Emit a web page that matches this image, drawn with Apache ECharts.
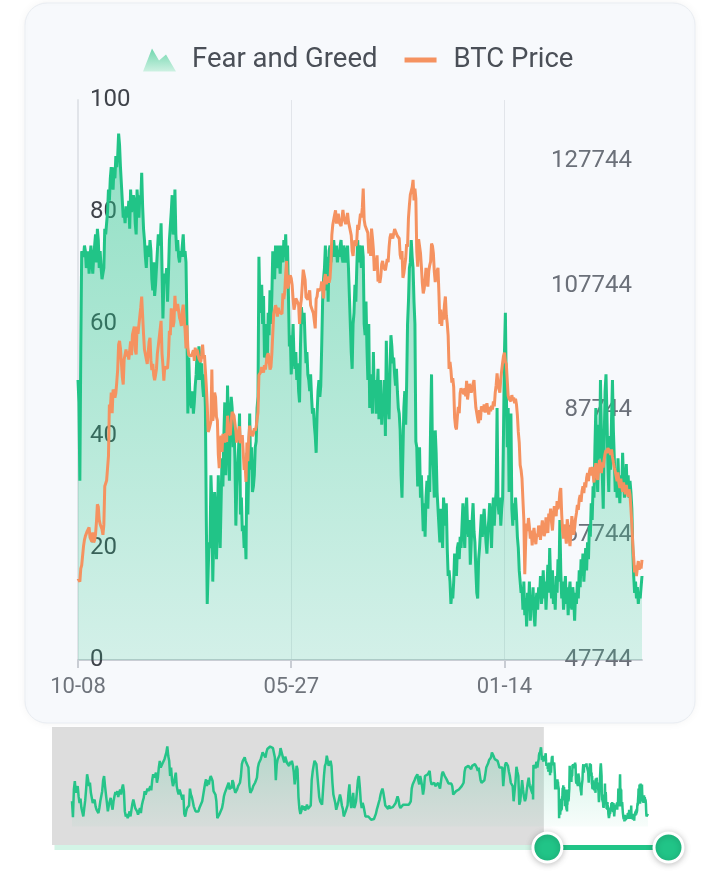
<!DOCTYPE html>
<html>
<head>
<meta charset="utf-8">
<title>Fear and Greed vs BTC Price</title>
<script src="https://cdn.jsdelivr.net/npm/echarts@6/dist/echarts.min.js"></script>
<style>
  html, body { margin: 0; padding: 0; background: #ffffff; }
  #main { width: 720px; height: 880px; }
</style>
</head>
<body>
<div id="main"></div>
<script>
// fear & greed history before the visible window, one reading every 5 days from 2018-02-01
// (only seen in the overview strip under the chart)
var fgHistory5d = [
  30, 11, 44, 54, 40, 45, 48, 36, 28, 33, 22, 17, 12, 22, 31, 45, 62, 56, 48, 52, 40, 38, 28, 30,
  32, 24, 20, 18, 16, 22, 30, 36, 42, 55, 60, 48, 38, 28, 18, 25, 30, 34, 26, 20, 30, 36, 41, 38,
  42, 35, 40, 44, 38, 45, 50, 42, 18, 12, 15, 10, 13, 18, 12, 20, 27, 32, 27, 22, 20, 18, 14, 16, 22,
  16, 25, 30, 34, 42, 38, 40, 45, 42, 44, 48, 43, 55, 62, 58, 60, 64, 52, 58, 70, 78, 70, 68, 75,
  73, 80, 82, 88, 95, 84, 78, 60, 70, 55, 48, 52, 58, 64, 48, 42, 38, 44, 40, 36, 32, 38, 15, 12,
  18, 22, 20, 25, 45, 38, 35, 30, 24, 22, 18, 20, 16, 18, 22, 20, 24, 30, 37, 44, 51, 56, 48, 55, 50,
  56, 60, 58, 54, 42, 40, 38, 30, 10, 12, 14, 12, 15, 22, 28, 36, 40, 42, 46, 44, 52, 44, 48, 45,
  55, 52, 45, 40, 42, 44, 48, 46, 52, 60, 74, 78, 80, 82, 78, 75, 76, 70, 48, 40, 41, 44, 48, 46,
  52, 55, 58, 70, 75, 77, 80, 84, 88, 90, 86, 82, 88, 92, 90, 94, 95, 93, 95, 93, 94, 82, 55, 74, 80,
  78, 85, 93, 95, 92, 80, 76, 83, 79, 75, 74, 72, 77, 74, 78, 73, 65, 50, 60, 72, 68, 35, 21, 15,
  18, 25, 20, 24, 19, 22, 26, 21, 22, 19, 25, 55, 65, 72, 78, 80, 74, 72, 73, 35, 30, 28, 26, 24,
  60, 72, 75, 84, 78, 72, 74, 78, 72, 52, 38, 33, 28, 20, 22, 28, 30, 38, 33, 25, 21, 12, 15, 18, 20,
  25, 40, 50, 30, 22, 20, 40, 22, 25, 30, 42, 55, 60, 47, 30, 22, 28, 24, 22, 12, 10, 14, 12, 13,
  10, 8, 10, 6, 9, 11, 15, 20, 24, 28, 32, 38, 42, 45, 40, 33, 25, 27, 23, 21, 25, 22, 20, 22,
  23, 25, 22, 28, 30, 36, 32, 25, 22, 24, 22, 26, 27, 28, 26, 28, 27, 26, 26, 30, 45, 50, 52, 55, 58,
  60, 62, 55, 50, 60, 55, 48, 38, 45, 60, 58, 62, 62, 64, 66, 55, 50, 52, 50, 52, 48, 50, 46, 52,
  48, 45, 44, 62, 65, 63, 60, 58, 56, 54, 51, 52, 50, 51, 48, 38, 37, 40, 42, 44, 41, 44, 45, 46,
  48, 50, 52, 65, 70, 68, 70, 72, 74, 70, 68, 72, 74, 72, 74, 73, 70, 66, 70, 72, 55, 52, 50, 52, 55,
  62, 70, 72, 75, 79, 80, 82, 88, 86, 83, 80, 78, 79, 78, 74, 70, 72, 69, 70, 48, 62, 73, 76, 74,
  72, 65, 60, 52, 50, 48, 30, 32, 54, 71, 65, 60, 26, 30, 42, 55, 44, 35, 30, 34, 44, 52, 58, 49,
  50, 42, 39
];

// daily fear & greed from 2024-10-08
var fgDaily = [
  50, 46, 32, 55, 73, 73, 72, 74, 73, 70, 71, 73, 69, 72, 74, 71, 69, 72, 74, 76, 71, 77, 75, 70,
  73, 70, 68, 69, 70, 77, 76, 78, 80, 84, 82, 86, 88, 85, 84, 88, 86, 90, 88, 90, 94, 92, 88, 85, 82, 79, 80, 78, 81, 80,
  79, 82, 77, 84, 80, 81, 83, 82, 78, 76, 84, 81, 79, 83, 82, 87, 81, 77, 75, 72, 70, 74, 73, 72, 75, 73, 68, 66, 71, 65, 67,
  70, 73, 76, 75, 74, 78, 70, 61, 67, 69, 68, 70, 64, 69, 75, 75, 80, 83, 76, 77, 84, 76, 73, 75, 72, 71, 73, 72, 74, 76, 72,
  73, 71, 60, 44, 54, 48, 46, 45, 48, 44, 46, 49, 51, 55, 50, 56, 54, 50, 53, 49, 47, 51, 45, 25, 10, 16, 21, 20,
  33, 28, 14, 22, 30, 27, 18, 24, 33, 25, 20, 28, 36, 31, 40, 46, 33, 38, 49, 40, 32, 44, 47, 45, 38, 42, 36, 24, 31, 34, 38,
  44, 26, 29, 23, 24, 20, 23, 18, 37, 26, 35, 44, 34, 38, 30, 31, 33, 38, 39, 45, 47, 72, 63, 62, 67, 60, 65, 54, 60, 56,
  53, 62, 58, 66, 60, 65, 73, 70, 68, 74, 71, 70, 74, 72, 69, 74, 73, 71, 75, 72, 76, 70, 74, 65, 56, 58, 51, 55, 60, 54, 52,
  55, 50, 53, 48, 46, 56, 63, 61, 60, 62, 57, 53, 55, 51, 50, 48, 51, 47, 44, 45, 42, 40, 37, 44, 48, 50, 47, 49, 56, 64,
  68, 70, 74, 66, 72, 64, 73, 74, 71, 73, 72, 75, 73, 72, 74, 71, 73, 72, 74, 75, 72, 71, 74, 73, 71, 72, 74, 70, 65, 60, 55,
  52, 60, 62, 67, 64, 70, 75, 71, 74, 73, 70, 74, 72, 60, 58, 64, 56, 50, 60, 45, 51, 48, 44, 55, 47, 50, 44, 48, 52, 43, 46,
  50, 42, 46, 44, 50, 40, 57, 48, 45, 43, 52, 58, 56, 53, 54, 51, 49, 52, 48, 45, 44, 41, 33, 29, 37, 45, 48, 42, 49, 60,
  64, 70, 71, 75, 72, 70, 64, 60, 39, 38, 31, 34, 38, 29, 33, 28, 23, 28, 22, 29, 32, 27, 33, 30, 42, 51, 37, 34, 29, 41, 37,
  30, 27, 24, 21, 27, 24, 20, 29, 26, 24, 28, 20, 15, 16, 14, 10, 12, 11, 14, 19, 17, 15, 20, 21, 18, 22, 20, 24, 28, 23,
  20, 26, 29, 24, 22, 25, 17, 21, 25, 28, 23, 21, 16, 12, 11, 18, 20, 23, 26, 22, 25, 27, 24, 21, 19, 23, 25, 28, 24, 20,
  26, 29, 24, 28, 30, 45, 28, 26, 29, 24, 27, 29, 41, 55, 62, 48, 38, 45, 30, 36, 44, 27, 24, 28, 25, 29, 26, 22, 20, 16, 14, 12,
  13, 9, 14, 8, 11, 6, 12, 9, 14, 7, 11, 9, 13, 8, 6, 10, 12, 9, 13, 11, 15, 10, 12, 16, 11, 14, 9, 13, 17, 12,
  20, 14, 11, 16, 10, 13, 9, 15, 12, 18, 14, 25, 16, 11, 14, 9, 12, 15, 10, 13, 8, 12, 14, 10, 9, 13, 11, 7, 12, 10,
  14, 11, 16, 13, 18, 15, 19, 14, 17, 20, 16, 21, 18, 24, 22, 28, 25, 31, 29,
  38, 45, 34, 30, 42, 36, 50, 41, 33, 27, 39, 48, 51, 44, 35, 30, 40, 34, 43, 50, 41, 36, 30,
  34, 29, 36, 31, 28, 33, 30, 37, 32, 29, 31, 35, 30, 33, 29, 32, 30, 27,
  20, 15, 12, 14, 11, 13, 10, 12, 11, 13, 15
];

// daily BTC close (USD) from 2024-10-08
var btcDaily = [
  60800, 60500, 60300, 62400, 62900, 62800, 66000, 67000, 67600, 67400, 68400, 68300, 69000, 67400, 67400, 66700, 68200, 66600, 67000, 67900, 69900, 72700, 72300, 70200,
  69500, 69300, 68700, 67800, 69400, 75600, 75900, 76500, 76700, 80400, 88700, 87900, 90600, 87300, 91100, 90600, 89800, 90500, 92300, 94300, 98300, 98900, 97700, 98000, 93100, 91900, 95900, 95600, 97500, 96400,
  97200, 95900, 96000, 98800, 96600, 99900, 99900, 101200, 97400, 96700, 101200, 100000, 101500, 101400, 104300, 106000, 106100, 100000, 97500, 97800, 97200, 95200, 94900, 98700, 99400, 95800, 94200, 95200, 93400, 92600, 93400,
  94400, 96900, 98100, 98200, 98300, 102100, 96900, 95000, 92500, 94700, 94500, 94500, 94500, 96500, 100500, 99800, 104100, 104400, 101100, 102000, 106100, 103700, 104000, 104800, 104700, 102600, 102100, 101300, 103700, 104700, 102400,
  100600, 97700, 101400, 97900, 96600, 96600, 96500, 96500, 96200, 97400, 95700, 97800, 96600, 97500, 97600, 96100, 95800, 95500, 96600, 98300, 96100, 96600, 96300, 91600, 88600, 84300, 84700, 84400,
  86000, 94300, 86100, 87200, 90600, 89900, 86700, 86100, 80700, 78500, 82900, 83700, 81100, 84000, 84300, 82600, 84100, 82700, 86900, 84200, 84100, 83800, 86100, 87500, 87500, 86900, 87200, 84400, 82600, 82300, 82500,
  85200, 82500, 83100, 83800, 83500, 78200, 79200, 76300, 82600, 79600, 83400, 85300, 83700, 84500, 83600, 84000, 84900, 84500, 85100, 85200, 87500, 93400, 93700, 93900, 94700, 94600, 93800, 95000, 94300, 94200,
  96500, 96900, 95900, 94300, 94700, 96800, 97000, 103200, 102900, 104600, 104100, 102800, 104200, 103500, 103700, 103500, 103200, 106500, 105600, 106800, 109700, 111700, 107300, 107800, 109000, 109400, 108900, 107800, 105600, 103900, 104600,
  105700, 105800, 105400, 104700, 101600, 104400, 105600, 105800, 110300, 110300, 108700, 105900, 106100, 105500, 105600, 107000, 104600, 104900, 104600, 103300, 102100, 100900, 105600, 106000, 107300, 106900, 107100, 107300, 108400, 107100,
  105700, 108800, 109600, 108000, 108200, 109200, 108200, 108900, 111300, 115900, 117500, 117400, 119100, 119800, 117700, 118700, 119300, 117900, 117900, 117300, 117400, 119900, 118600, 118300, 117600, 117900, 119400, 118000, 117900, 117800, 115800,
  113300, 112500, 114200, 115000, 114100, 115000, 117500, 116700, 116500, 119300, 118700, 120200, 123300, 118300, 117400, 117500, 117400, 116200, 112900, 114300, 112500, 116900, 115400, 113500, 110100, 111800, 111200, 112600, 108400, 108800, 108200,
  109200, 111200, 111700, 110700, 110700, 110200, 111100, 112000, 111500, 113900, 115500, 116100, 115900, 115300, 115400, 116800, 116500, 117100, 115700, 115700, 115300, 112700, 112000, 113300, 109000, 109700, 109700, 112100, 114400, 114000,
  118600, 120600, 122300, 122400, 123500, 124700, 121400, 123300, 121700, 113200, 110800, 115200, 115300, 113000, 110800, 108200, 106500, 107200, 108600, 110600, 108500, 107600, 110100, 111000, 111600, 114500, 114100, 112900, 110000, 108300, 109600,
  110100, 110600, 106500, 101600, 103900, 101300, 103400, 102300, 104700, 106000, 103000, 101700, 99700, 94400, 95500, 94200, 92200, 92900, 91500, 86600, 85100, 84700, 86800, 88300, 87300, 90500, 91300, 90900, 90800, 90400,
  91300, 90000, 92500, 89500, 89300, 92000, 92200, 90600, 90400, 92000, 92600, 90200, 88200, 87900, 86400, 85700, 87800, 86200, 88400, 88100,
  87600, 88700, 87400, 87200, 88900, 87800, 87100, 88300, 87600, 88500, 87900, 89200, 88400, 90600, 91800, 93700, 92000, 91200, 90600, 92800,
  94100, 95400, 96500, 97000, 95600, 95200, 92600, 90100, 89600, 89900, 89200, 90200, 89400, 89800, 88900, 89600, 88700, 87000, 84300, 82600, 79000, 78200,
  76800, 73400, 70200, 61500, 66800, 69600, 68400, 70500, 69100, 67200, 68500, 66100, 67800, 68900, 67400, 66300, 68000, 67500, 69300, 68200,
  67000, 68700, 70100, 68900, 67600, 68300, 70600, 69400, 68100, 71200, 70300, 72000, 69800, 68500, 70900, 72400, 71600, 70800, 73200, 71900,
  72600, 74600, 75300, 71100, 68400, 67200, 69500, 68000, 66400, 70300, 69100, 67300, 66000, 68200, 70800, 69600, 67800, 68900, 70400, 71300,
  72600, 71800, 73500, 74200, 73100, 74800, 75600, 74500, 76200, 75400, 76900, 77700, 76400, 77900, 78600, 77300, 78700,
  77500, 76200, 78100, 79300, 77800, 76600, 78400, 79800, 78900, 77700, 79400, 78600, 79900, 80800,
  81400, 80900, 81700, 81900, 81200, 80600, 81500, 80300, 79400, 78600, 78000,
  77200, 76400, 77800, 76100, 75300, 76800, 75600, 74700, 76200, 75000, 74300, 75800, 74600, 73900, 75100, 74200,
  72000, 69500, 66300, 64100, 61800, 62900, 61200,
  62500, 63600, 62200, 63100, 62400, 63800
];

var firstDay = '2018-02-01';
var missingDays = ['2025-11-11'];
var labelStep = 231;
var fgMin = 0, fgMax = 100, fgStep = 20;
var btcMin = 47744, btcMax = 137500, btcStep = 20000;

// build the full daily category axis and series
var histLen = (fgHistory5d.length - 1) * 5 + 1;
var total = histLen + fgDaily.length;
var dates = [];
var day = new Date(firstDay + 'T00:00:00Z');
while (dates.length < total) {
  var s = day.toISOString().slice(0, 10);
  if (missingDays.indexOf(s) < 0) dates.push(s);
  day.setUTCDate(day.getUTCDate() + 1);
}
var fgSeries = [];
var btcSeries = [];
for (var i = 0; i < histLen; i++) {
  fgSeries.push(i % 5 === 0 ? fgHistory5d[i / 5] : null);
  btcSeries.push(null);
}
fgSeries = fgSeries.concat(fgDaily);
btcSeries = btcSeries.concat(btcDaily);

// overview strip scale: data range padded by 30% on both sides
var fgAll = fgHistory5d.concat(fgDaily);
var fgLo = Math.min.apply(null, fgAll), fgHi = Math.max.apply(null, fgAll);
var fgPad = (fgHi - fgLo) * 0.3;

function onLabelDay(idx) {
  return idx >= histLen && (idx - histLen) % labelStep === 0;
}

var green = '#21c487';
var orange = '#f59260';

var chart = echarts.init(document.getElementById('main'));
var W = chart.getWidth();

// thin slider track under the overview; the part left of the window gets a grey wash
var sliderLeft = 52, sliderRight = 53, sliderTop = 845, sliderHeight = 5;
var washTop = 727;
var sliderWidth = W - sliderLeft - sliderRight;
var washWidth = sliderWidth * histLen / (total - 1);

var option = {
  backgroundColor: '#ffffff',
  animation: false,
  textStyle: { fontFamily: 'Roboto' },
  graphic: [{
    type: 'rect',
    silent: true,
    z: -10,
    shape: { x: 25, y: 3, width: 670, height: 720, r: 22 },
    style: {
      fill: '#f7f9fc',
      stroke: '#e9edf2',
      lineWidth: 1,
      shadowBlur: 10,
      shadowColor: 'rgba(0,0,0,0.05)'
    }
  }, {
    type: 'rect',
    silent: true,
    z: 3,
    shape: { x: sliderLeft, y: washTop, width: washWidth, height: sliderTop - washTop },
    style: { fill: 'rgba(0,0,0,0.135)' }
  }],
  legend: {
    top: 41,
    left: 138,
    itemWidth: 44,
    itemHeight: 23,
    itemGap: 27,
    textStyle: { fontSize: 27.5, color: '#4a4f57', fontFamily: 'Roboto' },
    data: [{
      name: 'Fear and Greed',
      icon: 'path://M0,23 L9,0 L16,12 L23,6 L33,23 Z M44,23',
      itemStyle: {
        borderWidth: 0,
        color: new echarts.graphic.LinearGradient(0, 0, 0, 1, [
          { offset: 0, color: '#6fd6ad' },
          { offset: 1, color: '#cdf1e2' }
        ])
      }
    }, {
      name: 'BTC Price',
      icon: 'path://M0,0 M0,9 L32,9 L32,14 L0,14 Z M44,23',
      itemStyle: { borderWidth: 0, color: orange }
    }]
  },
  grid: [
    { left: 78, right: 78, top: 100, bottom: 220 },
    { left: 72, right: 72, top: 724, height: 120 }
  ],
  xAxis: [{
    type: 'category',
    data: dates,
    boundaryGap: false,
    axisLine: { lineStyle: { color: '#c9cdd4', width: 2 } },
    axisTick: { interval: onLabelDay, length: 8, lineStyle: { color: '#c9cdd4', width: 2 } },
    axisLabel: {
      interval: onLabelDay,
      formatter: function (v) { return v.slice(5); },
      color: '#6f747c',
      fontSize: 22,
      margin: 16
    },
    splitLine: { show: true, interval: onLabelDay, lineStyle: { color: '#e2e5ea', width: 1 } }
  }, {
    type: 'category',
    gridIndex: 1,
    data: dates,
    boundaryGap: false,
    show: false
  }],
  yAxis: [{
    type: 'value',
    min: fgMin,
    max: fgMax,
    interval: fgStep,
    position: 'left',
    axisLine: { show: true, lineStyle: { color: '#e1e4e9', width: 2 } },
    axisTick: { show: false },
    splitLine: { show: false },
    axisLabel: { inside: true, margin: 12, color: '#3f434a', fontSize: 24, padding: [6, 0, 0, 0] }
  }, {
    type: 'value',
    min: btcMin,
    max: btcMax,
    interval: btcStep,
    position: 'right',
    axisLine: { show: false },
    axisTick: { show: false },
    splitLine: { show: false },
    axisLabel: {
      inside: true,
      margin: 10,
      color: '#6b7079',
      fontSize: 24,
      padding: [5, 0, 0, 0],
      showMaxLabel: false,
      formatter: function (v) { return String(v); }
    }
  }, {
    type: 'value',
    gridIndex: 1,
    min: fgLo - fgPad,
    max: fgHi + fgPad,
    show: false,
    splitLine: { show: false }
  }],
  dataZoom: [{
    type: 'slider',
    xAxisIndex: 0,
    startValue: histLen,
    endValue: total - 1,
    left: sliderLeft,
    right: sliderRight,
    top: sliderTop,
    height: sliderHeight,
    showDataShadow: false,
    showDetail: false,
    brushSelect: false,
    backgroundColor: '#d3f4e6',
    borderColor: 'rgba(0,0,0,0)',
    borderRadius: 0,
    fillerColor: green,
    handleIcon: 'circle',
    handleSize: 29,
    handleStyle: {
      color: green,
      borderColor: '#ffffff',
      borderWidth: 3,
      shadowBlur: 6,
      shadowColor: 'rgba(0,0,0,0.22)',
      shadowOffsetY: 1
    },
    emphasis: {
      handleStyle: { color: green, borderColor: '#ffffff' }
    }
  }],
  series: [{
    name: 'Fear and Greed',
    type: 'line',
    yAxisIndex: 0,
    data: fgSeries,
    symbol: 'none',
    lineStyle: { width: 3, color: green },
    itemStyle: { color: green },
    areaStyle: {
      color: new echarts.graphic.LinearGradient(0, 0, 0, 1, [
        { offset: 0, color: 'rgba(33,196,135,0.68)' },
        { offset: 1, color: 'rgba(33,196,135,0.24)' }
      ])
    }
  }, {
    name: 'BTC Price',
    type: 'line',
    yAxisIndex: 1,
    data: btcSeries,
    symbol: 'none',
    lineStyle: { width: 3, color: orange },
    itemStyle: { color: orange }
  }, {
    name: 'Fear and Greed overview',
    type: 'line',
    xAxisIndex: 1,
    yAxisIndex: 2,
    data: fgSeries,
    connectNulls: true,
    symbol: 'none',
    silent: true,
    lineStyle: { width: 2.5, color: '#26c489' },
    itemStyle: { color: '#26c489' },
    areaStyle: {
      color: new echarts.graphic.LinearGradient(0, 0, 0, 1, [
        { offset: 0, color: 'rgba(38,196,137,0.3)' },
        { offset: 1, color: 'rgba(38,196,137,0.05)' }
      ])
    }
  }]
};
chart.setOption(option);
</script>
</body>
</html>
